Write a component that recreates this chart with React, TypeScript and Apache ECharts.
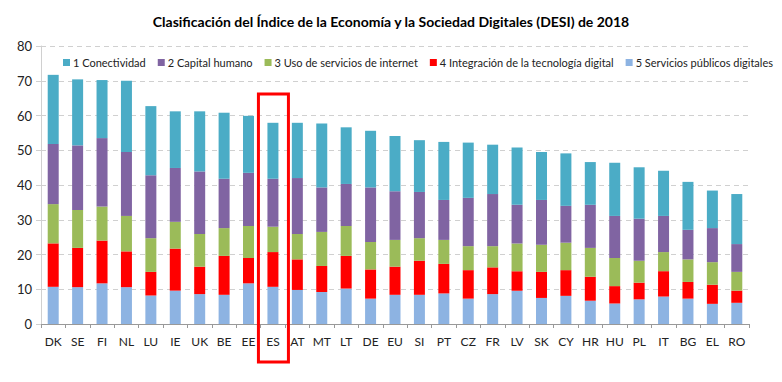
import React, { useEffect, useRef } from "react";
import * as echarts from "echarts";

const categories = ["DK","SE","FI","NL","LU","IE","UK","BE","EE","ES","AT","MT","LT","DE","EU","SI","PT","CZ","FR","LV","SK","CY","HR","HU","PL","IT","BG","EL","RO"];
const serviciosPublicos = [10.7,10.6,11.7,10.6,8.2,9.6,8.6,8.4,11.7,10.7,9.8,9.2,10.2,7.3,8.4,8.4,8.8,7.3,8.6,9.6,7.5,8.1,6.7,5.9,7.1,7.9,7.3,5.8,6.1];
const integracion = [12.5,11.3,12.3,10.3,6.8,12.1,7.9,11.2,7.3,10.0,8.8,7.5,9.4,8.4,8.1,9.8,8.5,8.2,7.7,5.6,7.5,7.4,6.9,5.0,4.8,7.3,4.8,5.5,3.5];
const usoInternet = [11.3,10.9,9.8,10.2,9.7,7.7,9.4,8.0,9.2,7.3,7.3,9.8,8.6,7.9,7.7,6.5,6.9,6.9,6.1,8.0,7.8,7.9,8.3,8.1,6.3,5.5,6.5,6.5,5.4];
const capitalHumano = [17.3,18.6,19.7,18.4,18.1,15.5,18.0,14.2,15.3,13.8,16.1,12.8,12.1,15.7,14.0,13.3,11.5,13.9,15.0,11.1,12.9,10.6,12.4,12.1,12.1,10.4,8.5,9.8,8.0];
const conectividad = [19.9,19.0,16.7,20.5,19.9,16.3,17.3,19.0,16.4,16.1,15.9,18.4,16.3,16.3,15.9,14.9,16.7,15.9,14.2,16.5,13.8,15.1,12.3,15.3,14.8,13.0,13.8,10.8,14.4];
const yTicks = [0, 80, 10];
const highlighted = "ES";

const names = ["1 Conectividad","2 Capital humano","3 Uso de servicios de internet","4 Integración de la tecnología digital","5 Servicios públicos digitales"];
const colors = ["#4BACC6","#8064A2","#9BBB59","#FF0000","#8DB3E2"];

export default function App() {
  const ref = useRef<HTMLDivElement>(null);
  useEffect(() => {
    if (!ref.current) return;
    const chart = echarts.init(ref.current, null, { renderer: "svg" });
    const font = "Lato, 'Open Sans', sans-serif";
    const dataByLegend = [conectividad, capitalHumano, usoInternet, integracion, serviciosPublicos];
    const order = [4, 3, 2, 1, 0];
    const series = order.map((i) => ({
      name: names[i],
      type: "bar",
      stack: "desi",
      barWidth: 11,
      itemStyle: { color: colors[i] },
      data: dataByLegend[i],
    }));
    chart.setOption({
      animation: false,
      textStyle: { fontFamily: font },
      title: {
        text: "Clasificación del Índice de la Economía y la Sociedad Digitales (DESI) de 2018",
        left: "center",
        top: 9,
        textStyle: { fontFamily: font, fontSize: 14, fontWeight: "bold", color: "#000" },
      },
      legend: {
        data: names,
        left: 63,
        top: 57,
        width: 720,
        padding: 0,
        itemWidth: 7,
        itemHeight: 7,
        itemGap: 12,
        icon: "rect",
        textStyle: { fontFamily: font, fontSize: 11, color: "#222", padding: [0, 0, 0, -2] },
      },
      grid: { left: 41, right: 33, top: 46, bottom: 58 },
      xAxis: {
        type: "category",
        data: categories,
        axisLine: { lineStyle: { color: "#999" } },
        axisTick: { show: true, alignWithLabel: false, lineStyle: { color: "#999" }, length: 4 },
        axisLabel: { color: "#222", fontSize: 12, fontFamily: font, margin: 11, interval: 0 },
      },
      yAxis: {
        type: "value",
        min: yTicks[0],
        max: yTicks[1],
        interval: yTicks[2],
        axisLine: { show: true, lineStyle: { color: "#d0d0d0" } },
        axisTick: { show: true, length: 5, lineStyle: { color: "#d0d0d0" } },
        axisLabel: { color: "#222", fontSize: 13, fontFamily: font, margin: 9 },
        splitLine: { lineStyle: { color: "#d0d0d0", type: [5, 4] } },
      },
      series,
    });
    const px = chart.convertToPixel({ xAxisIndex: 0 }, highlighted) as number;
    chart.setOption({
      graphic: [
        {
          type: "rect",
          shape: { x: px - 14.5, y: 94, width: 30, height: 268 },
          style: { fill: "none", stroke: "#FF0000", lineWidth: 3 },
          z: 100,
        },
      ],
    });
    return () => chart.dispose();
  }, []);
  return <div ref={ref} style={{ width: 782, height: 382, margin: -8 }} />;
}
